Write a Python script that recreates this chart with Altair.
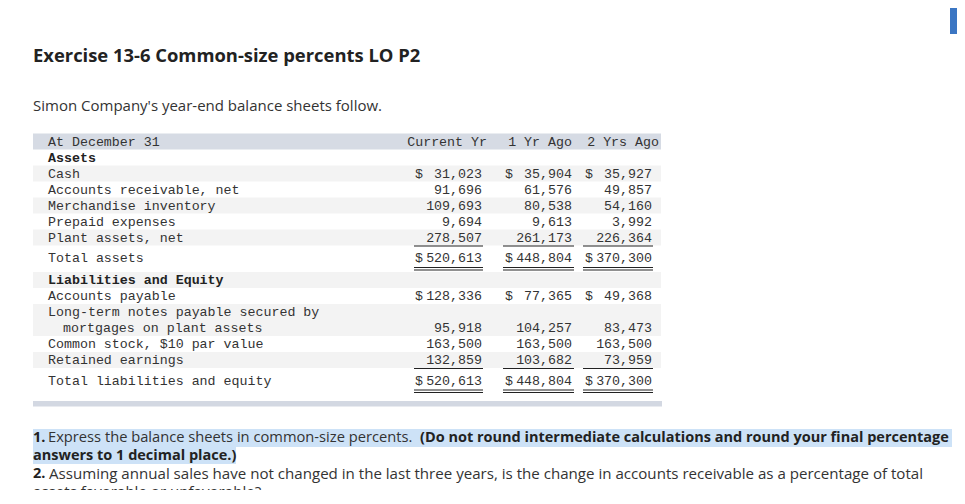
import altair as alt
import pandas as pd

# ---------------- content ----------------
title_text = "Exercise 13-6 Common-size percents LO P2"
intro_text = "Simon Company's year-end balance sheets follow."
stub_header = "At December 31"
col_headers = ["Current Yr", "1 Yr Ago", "2 Yrs Ago"]

row_labels = [
    "Assets", "Cash", "Accounts receivable, net", "Merchandise inventory",
    "Prepaid expenses", "Plant assets, net", "Total assets",
    "Liabilities and Equity", "Accounts payable",
    "Long-term notes payable secured by", "mortgages on plant assets",
    "Common stock, $10 par value", "Retained earnings",
    "Total liabilities and equity",
]
current_yr = [None, 31023, 91696, 109693, 9694, 278507, 520613,
              None, 128336, None, 95918, 163500, 132859, 520613]
one_yr_ago = [None, 35904, 61576, 80538, 9613, 261173, 448804,
              None, 77365, None, 104257, 163500, 103682, 448804]
two_yrs_ago = [None, 35927, 49857, 54160, 3992, 226364, 370300,
               None, 49368, None, 83473, 163500, 73959, 370300]
# structure of each row
row_kind = ["section", "dollar", "item", "item", "item", "underline", "total",
            "section", "dollar", "wrap", "cont", "item", "underline", "total"]

q1_num = "1."
q1_regular = "Express the balance sheets in common-size percents."
q1_bold = "(Do not round intermediate calculations and round your final percentage"
q1_bold2 = "answers to 1 decimal place.)"
q2_num = "2."
q2_regular = ("Assuming annual sales have not changed in the last three years, is the "
              "change in accounts receivable as a percentage of total")
q2_regular2 = "assets favorable or unfavorable?"

# ---------------- layout ----------------
TABLE_L, TABLE_R = 33, 661
LABEL_X = 48
INDENT_X = 63
NUM_RIGHT = [482, 572, 652]
DOLLAR_LEFT = [415, 505, 585]
HEAD_RIGHT = [487, 572, 659]
LINE_SPAN = [(414, 483), (503, 574), (583, 653)]

# compute y of each row
ys = []
y = 157.5
for i, k in enumerate(row_kind):
    if i > 0:
        prev = row_kind[i - 1]
        step = 16
        if k == "total":
            step = 20.5
        if prev == "total":
            step = 22
        y += step
    ys.append(y)

# striped rows (logical rows: wrap+cont are one)
stripes = []
logical = -1
for i, k in enumerate(row_kind):
    if k == "cont":
        continue
    logical += 1
    if logical % 2 == 1:
        top = ys[i] - 8
        bot = ys[i] + 8
        if k == "wrap":
            bot = ys[i + 1] + 8
        stripes.append(dict(x=TABLE_L, x2=TABLE_R, y=top, y2=bot, c="#f3f3f3"))

rects = pd.DataFrame(
    stripes + [
        dict(x=TABLE_L, x2=TABLE_R, y=133.5, y2=149.5, c="#d6dbe4"),   # header band
        dict(x=TABLE_L, x2=TABLE_R + 1, y=401, y2=406.5, c="#d3d8e2"),  # bottom band
        dict(x=33, x2=952, y=429, y2=447, c="#cde2f7"),               # highlight 1
        dict(x=33, x2=236, y=447, y2=464, c="#cde2f7"),               # highlight 2
        dict(x=950, x2=965, y=5, y2=34, c="#3b76c3"),                 # blue tab
    ]
)

# underlines
rules = []
for i, k in enumerate(row_kind):
    if k == "underline":
        for a, b in LINE_SPAN:
            rules.append(dict(x=a, x2=b, y=ys[i] + 8.5))
    if k == "total":
        for a, b in LINE_SPAN:
            rules.append(dict(x=a, x2=b, y=ys[i] + 9.5))
            rules.append(dict(x=a, x2=b, y=ys[i] + 12))
rules = pd.DataFrame(rules)

# table texts
label_rows, bold_rows, num_rows, dollar_rows = [], [], [], []
for i, (lab, k) in enumerate(zip(row_labels, row_kind)):
    rec = dict(t=lab, x=INDENT_X if k == "cont" else LABEL_X, y=ys[i])
    (bold_rows if k == "section" else label_rows).append(rec)
    for j, series in enumerate([current_yr, one_yr_ago, two_yrs_ago]):
        v = series[i]
        if v is None:
            continue
        num_rows.append(dict(t=f"{v:,}", x=NUM_RIGHT[j], y=ys[i]))
        if k in ("dollar", "total"):
            dollar_rows.append(dict(t="$", x=DOLLAR_LEFT[j], y=ys[i]))

label_rows.insert(0, dict(t=stub_header, x=LABEL_X, y=142))
head_rows = [dict(t=h, x=HEAD_RIGHT[j], y=142) for j, h in enumerate(col_headers)]

X = lambda f="x": alt.X(f"{f}:Q", scale=alt.Scale(domain=[8, 957]), axis=None)
Y = lambda f="y": alt.Y(f"{f}:Q", scale=alt.Scale(domain=[8, 490], reverse=True), axis=None)


def text_layer(rows, font, size, weight="normal", align="left", color="#333333"):
    return alt.Chart(pd.DataFrame(rows)).mark_text(
        font=font, fontSize=size, fontWeight=weight, align=align,
        baseline="middle", color=color, clip=True,
    ).encode(x=X(), y=Y(), text="t:N")


MONO = "Liberation Mono"
MS = 13.3
SANS = "Open Sans"

rect_layer = alt.Chart(rects).mark_rect().encode(
    x=X(), x2="x2:Q", y=Y(), y2="y2:Q", color=alt.Color("c:N", scale=None)
)
rule_layer = alt.Chart(rules).mark_rule(color="#222222", strokeWidth=1.1).encode(
    x=X(), x2="x2:Q", y=Y()
)

layers = [
    rect_layer,
    rule_layer,
    text_layer(label_rows, MONO, MS),
    text_layer(bold_rows, MONO, MS, weight="bold", color="#222222"),
    text_layer(num_rows, MONO, MS, align="right"),
    text_layer(dollar_rows, MONO, MS),
    text_layer(head_rows, MONO, MS, align="right"),
    text_layer([dict(t=title_text, x=33, y=55.5)], SANS, 18.4, weight="bold", color="#222222"),
    text_layer([dict(t=intro_text, x=33, y=106)], SANS, 15, color="#333333"),
    text_layer([dict(t=q1_num, x=33, y=437.5), dict(t=q1_bold2, x=33, y=455.5),
                dict(t=q2_num, x=33, y=473.5), dict(t=q1_bold, x=420, y=437.5)],
               SANS, 14.5, weight="bold", color="#222222"),
    text_layer([dict(t=q1_regular, x=48, y=437.5)], SANS, 14.7, color="#333333"),
    text_layer([dict(t=q2_regular, x=49, y=473.5), dict(t=q2_regular2, x=33, y=492)],
               SANS, 15.1, color="#333333"),
]

chart = alt.layer(*layers).properties(
    width=949, height=482, padding=0,
    autosize=alt.AutoSizeParams(type="none"),
    background="white",
).configure_view(strokeWidth=0)

chart.save("out.html", embed_options={"renderer": "svg", "actions": False})
